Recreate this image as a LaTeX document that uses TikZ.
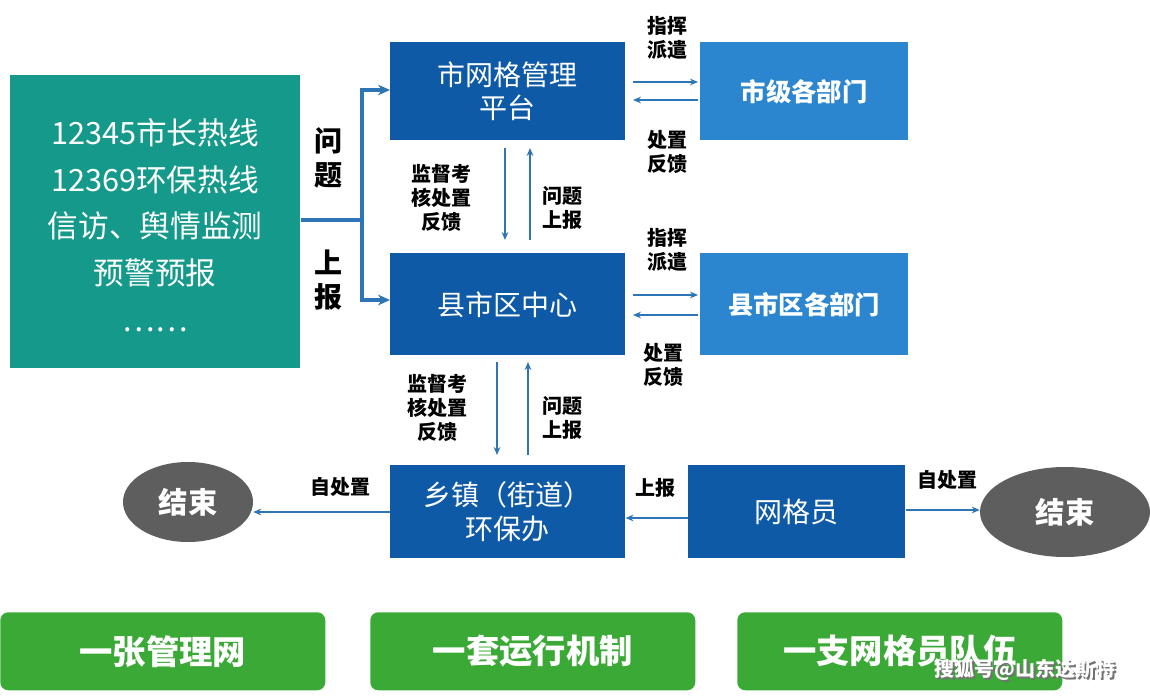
\documentclass[tikz,border=0pt]{standalone}
\usepackage{fontspec}
\setmainfont{Noto Sans CJK SC}
\usetikzlibrary{arrows.meta,shapes.geometric}
\definecolor{teal1}{HTML}{14998A}
\definecolor{dblue}{HTML}{0E5AA7}
\definecolor{lblue}{HTML}{2B86CF}
\definecolor{abl}{HTML}{2E75B6}
\definecolor{grn}{HTML}{3AA935}
\definecolor{gry}{HTML}{5E5E5E}
\begin{document}
\begin{tikzpicture}[x=0.75pt,y=-0.75pt,
  bx/.style={fill=dblue,text=white,inner sep=0pt,anchor=north west,font=\fontsize{21}{25}\selectfont,align=center},
  lb/.style={fill=lblue,text=white,inner sep=0pt,anchor=north west,font=\fontsize{19}{23}\selectfont\bfseries,align=center},
  gb/.style={fill=grn,text=white,rounded corners=6pt,inner sep=0pt,anchor=north west,minimum width=243.75pt,minimum height=58.5pt,font=\fontsize{25}{30}\selectfont\bfseries},
  el/.style={ellipse,fill=gry,text=white,font=\fontsize{22}{26}\selectfont\bfseries,inner sep=0pt},
  tl/.style={font=\fontsize{15}{18}\selectfont\bfseries,align=center,text=black},
  ar/.style={-{Stealth[length=6pt,width=5pt]},abl,line width=0.9pt},
  big/.style={-{Stealth[length=9pt,width=8pt]},abl,line width=3pt}]
\useasboundingbox (0,0) rectangle (1150,699);
\node[fill=teal1,text=white,inner sep=0pt,anchor=north west,minimum width=217.5pt,minimum height=219.75pt] (src) at (10,75) {};
\node[text=white,font=\fontsize{23}{28}\selectfont,align=center] (srct) at (155,225) {12345市长热线\\[7pt]12369环保热线\\[7pt]信访、舆情监测\\[7pt]预警预报\\[7pt]……};
\node[bx,minimum width=176.25pt,minimum height=73.5pt] (city) at (390,42) {市网格管理\\平台};
\node[lb,minimum width=156pt,minimum height=73.5pt] (cityd) at (700,42) {市级各部门};
\node[bx,minimum width=176.25pt,minimum height=76.5pt] (cty) at (390,253) {县市区中心};
\node[lb,minimum width=156pt,minimum height=76.5pt] (ctyd) at (700,253) {县市区各部门};
\node[bx,minimum width=176.25pt,minimum height=69.75pt] (town) at (390,465) {乡镇（街道）\\环保办};
\node[bx,minimum width=162.75pt,minimum height=69.75pt] (grid) at (688,465) {网格员};
\node[el,minimum width=97.5pt,minimum height=60pt] (endl) at (188,502) {结束};
\node[el,minimum width=127.5pt,minimum height=67.5pt] (endr) at (1065,512) {结束};
\node[tl,font=\fontsize{21}{26}\selectfont\bfseries] (q) at (328,158) {问\\题};
\node[tl,font=\fontsize{21}{26}\selectfont\bfseries] (s) at (328,280) {上\\报};
\coordinate (j) at (362,220);
\draw[abl,line width=3pt] (src.east|-j) -- (j);
\draw[big] (362,220) |- (city.west|-0,90);
\draw[big] (362,220) |- (cty.west|-0,300);
\draw[ar] (633,82) -- (698,82);
\draw[ar] (698,100) -- (633,100);
\node[tl] (l1) at (667,38) {指挥\\派遣};
\node[tl] (l2) at (667,152) {处置\\反馈};
\draw[ar] (633,295) -- (698,295);
\draw[ar] (698,315) -- (633,315);
\node[tl] (l3) at (667,250) {指挥\\派遣};
\node[tl] (l4) at (663,365) {处置\\反馈};
\draw[ar] (505,148) -- (505,240);
\draw[ar] (530,240) -- (530,148);
\node[tl] (l5) at (441,198) {监督考\\核处置\\反馈};
\node[tl] (l6) at (562,208) {问题\\上报};
\draw[ar] (497,362) -- (497,455);
\draw[ar] (528,455) -- (528,362);
\node[tl] (l7) at (437,408) {监督考\\核处置\\反馈};
\node[tl] (l8) at (562,418) {问题\\上报};
\draw[ar] (town.west|-0,512) -- (endl.east|-0,512);
\node[tl] (l9) at (340,487) {自处置};
\draw[ar] (grid.west|-0,518) -- (town.east|-0,518);
\node[tl] (l10) at (655,488) {上报};
\draw[ar] (grid.east|-0,510) -- (endr.west|-0,510);
\node[tl] (l11) at (947,480) {自处置};
\node[gb] (g1) at (0,612) {一张管理网};
\node[gb] (g2) at (370,612) {一套运行机制};
\node[gb] (g3) at (737,612) {一支网格员队伍};
\node[text=black!55,font=\fontsize{15}{18}\selectfont\bfseries] (wms) at (1027,672) {搜狐号@山东达斯特};
\node[text=white,font=\fontsize{15}{18}\selectfont\bfseries] (wm) at (1025,670) {搜狐号@山东达斯特};
\end{tikzpicture}
\end{document}
